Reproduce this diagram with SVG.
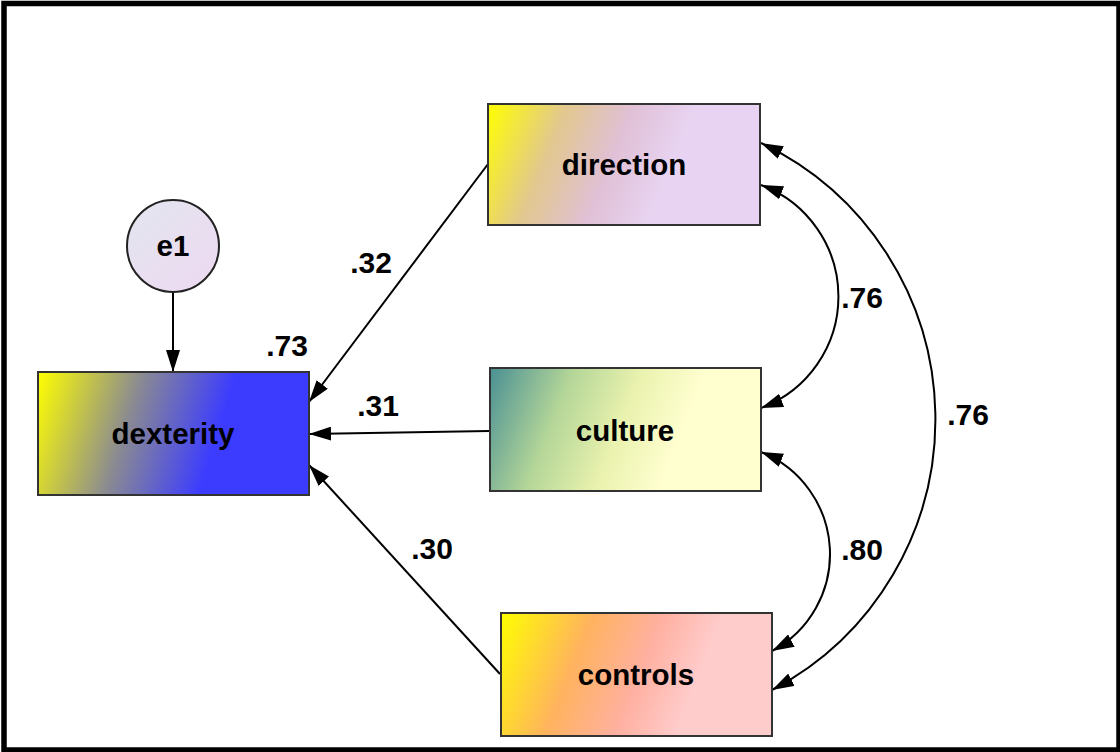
<svg xmlns="http://www.w3.org/2000/svg" width="1120" height="752" viewBox="0 0 1120 752">
  <style>
    .box { stroke: #333333; stroke-width: 2; }
    .lbl { font-family: "Liberation Sans", Arial, sans-serif; font-weight: bold; font-size: 29.5px; fill: #000000; text-anchor: middle; }
    .num { font-family: "Liberation Sans", Arial, sans-serif; font-weight: bold; font-size: 30px; fill: #000000; text-anchor: middle; }
    .edge { fill: none; stroke: #000000; stroke-width: 2; }
    .one { marker-end: url(#head); }
    .two { marker-start: url(#head); marker-end: url(#head); }
  </style>
  <defs>
    <marker id="head" viewBox="0 0 22 14" refX="22" refY="7" markerWidth="22" markerHeight="14" markerUnits="userSpaceOnUse" orient="auto-start-reverse">
      <path d="M0,0 L22,7 L0,14 Z" fill="#000000"/>
    </marker>
    <linearGradient id="gDirection" x1="0" y1="0" x2="1" y2="0.18">
      <stop offset="0" stop-color="#ffff00"/>
      <stop offset="0.28" stop-color="#e2c88e"/>
      <stop offset="0.52" stop-color="#e0c0d6"/>
      <stop offset="0.75" stop-color="#e8d4f2"/>
      <stop offset="1" stop-color="#e8d4f2"/>
    </linearGradient>
    <linearGradient id="gDexterity" x1="0" y1="0" x2="1" y2="0.14">
      <stop offset="0" stop-color="#ffff00"/>
      <stop offset="0.38" stop-color="#8a8a92"/>
      <stop offset="0.72" stop-color="#3c3cff"/>
      <stop offset="1" stop-color="#3c3cff"/>
    </linearGradient>
    <linearGradient id="gCulture" x1="0" y1="0" x2="1" y2="0.18">
      <stop offset="0" stop-color="#4a9094"/>
      <stop offset="0.3" stop-color="#b4d698"/>
      <stop offset="0.55" stop-color="#eaf2ae"/>
      <stop offset="0.78" stop-color="#ffffd0"/>
      <stop offset="1" stop-color="#ffffd0"/>
    </linearGradient>
    <linearGradient id="gControls" x1="0" y1="0" x2="1" y2="0.18">
      <stop offset="0" stop-color="#ffff00"/>
      <stop offset="0.33" stop-color="#ffb35e"/>
      <stop offset="0.58" stop-color="#ffb0a0"/>
      <stop offset="0.8" stop-color="#ffcccc"/>
      <stop offset="1" stop-color="#ffcccc"/>
    </linearGradient>
    <linearGradient id="gE1" x1="0" y1="0" x2="1" y2="1">
      <stop offset="0" stop-color="#e2e6ee"/>
      <stop offset="1" stop-color="#eed8f2"/>
    </linearGradient>
  </defs>

  <!-- outer frame -->
  <rect x="4" y="3.5" width="1115" height="746.5" fill="#ffffff" stroke="#000000" stroke-width="5.5"/>

  <!-- paths and covariances -->
  <g id="connectors">
    <line class="edge one" x1="173" y1="292" x2="173" y2="372"/>
    <line class="edge one" x1="488" y1="164" x2="309" y2="402"/>
    <line class="edge one" x1="489" y1="431" x2="309" y2="434"/>
    <line class="edge one" x1="500" y1="674" x2="309" y2="465"/>
    <path class="edge two" d="M761,185 A119,119 0 0 1 761,408"/>
    <path class="edge two" d="M761,452 A110,110 0 0 1 772,651"/>
    <path class="edge two" d="M761,143 A306,306 0 0 1 772,690"/>
  </g>

  <g id="e1">
    <circle cx="173" cy="246" r="46" fill="url(#gE1)" stroke="#222222" stroke-width="2"/>
    <text class="lbl" x="173" y="256">e1</text>
  </g>

  <g id="dexterity">
    <rect class="box" x="38" y="372" width="271" height="123" fill="url(#gDexterity)"/>
    <text class="lbl" x="173" y="444">dexterity</text>
    <text class="num" x="287" y="356">.73</text>
  </g>

  <g id="direction">
    <rect class="box" x="488" y="104" width="272" height="121" fill="url(#gDirection)"/>
    <text class="lbl" x="624" y="175">direction</text>
  </g>

  <g id="culture">
    <rect class="box" x="490" y="368" width="271" height="123" fill="url(#gCulture)"/>
    <text class="lbl" x="625" y="441">culture</text>
  </g>

  <g id="controls">
    <rect class="box" x="501" y="613" width="271" height="123" fill="url(#gControls)"/>
    <text class="lbl" x="636" y="685">controls</text>
  </g>

  <g id="labels">
    <text class="num" x="371" y="273">.32</text>
    <text class="num" x="378" y="416">.31</text>
    <text class="num" x="432" y="559">.30</text>
    <text class="num" x="862" y="308">.76</text>
    <text class="num" x="862" y="560">.80</text>
    <text class="num" x="968" y="425">.76</text>
  </g>
</svg>
